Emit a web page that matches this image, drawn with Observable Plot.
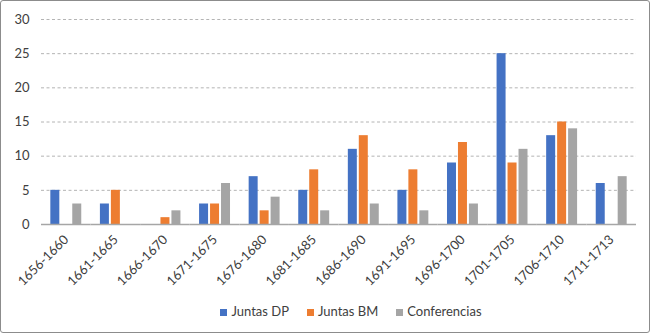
<!DOCTYPE html>
<html><head><meta charset="utf-8">
<script src="https://cdn.jsdelivr.net/npm/d3@7"></script>
<script src="https://cdn.jsdelivr.net/npm/@observablehq/plot@0.6"></script>
<style>
body{margin:0;background:#fff;font-family:Lato,"Open Sans",sans-serif;}
#wrap{position:relative;width:650px;height:333px;overflow:hidden;background:#fff}
#frame{position:absolute;left:0;top:0;width:648px;height:331px;border:1px solid #8c8c8c;border-radius:3px;pointer-events:none}
#chart{position:absolute;left:0;top:0}
#legend{position:absolute;top:303px;left:26px;width:650px;display:flex;justify-content:center;gap:18px;font-size:13px;color:#404040;line-height:17px}
#legend span.sw{display:inline-block;width:7px;height:7px;margin-right:4px;vertical-align:0px}
</style></head>
<body>
<div id="wrap"><div id="chart"></div><div id="legend"></div><div id="frame"></div></div>
<script>
const periods = ["1656-1660","1661-1665","1666-1670","1671-1675","1676-1680","1681-1685","1686-1690","1691-1695","1696-1700","1701-1705","1706-1710","1711-1713"];
const juntasDP = [5,3,0,3,7,5,11,5,9,25,13,6];
const juntasBM = [0,5,1,3,2,8,13,8,12,9,15,0];
const conferencias = [3,0,2,6,4,2,3,2,3,11,14,7];
const seriesNames = ["Juntas DP","Juntas BM","Conferencias"];
const seriesColors = ["#4472C4","#ED7D31","#A5A5A5"];
const yTicks = [0,5,10,15,20,25,30];

const seriesValues = [juntasDP, juntasBM, conferencias];
const rows = [];
periods.forEach((p,i)=>seriesNames.forEach((s,j)=>rows.push({period:p, series:s, value:seriesValues[j][i]})));

const chart = Plot.plot({
  width:650, height:296,
  marginLeft:41, marginRight:14, marginTop:19, marginBottom:72,
  style:{fontSize:"13px", color:"#404040", fontFamily:'Lato,"Open Sans",sans-serif', background:"transparent"},
  fx:{domain:periods, padding:0, round:false, label:null, tickRotate:-45, tickSize:0, tickPadding:13},
  x:{domain:seriesNames, axis:null, round:false, paddingInner:0.18, paddingOuter:0.85},
  y:{domain:[0,30], ticks:yTicks, tickSize:0, tickPadding:12, label:null},
  color:{domain:seriesNames, range:seriesColors},
  marks:[
    Plot.ruleY(yTicks.filter(d=>d>0), {stroke:"#b4b4b4", strokeDasharray:"3,2.5"}),
    Plot.barY(rows, {fx:"period", x:"series", y:"value", fill:"series"}),
    Plot.ruleY([0], {stroke:"#a6a6a6", strokeWidth:1.3})
  ]
});
document.getElementById("chart").appendChild(chart);
const lg = document.getElementById("legend");
seriesNames.forEach((s,i)=>{
  const d=document.createElement("div");
  d.innerHTML=`<span class="sw" style="background:${seriesColors[i]}"></span>${s}`;
  lg.appendChild(d);
});
</script>
</body></html>
